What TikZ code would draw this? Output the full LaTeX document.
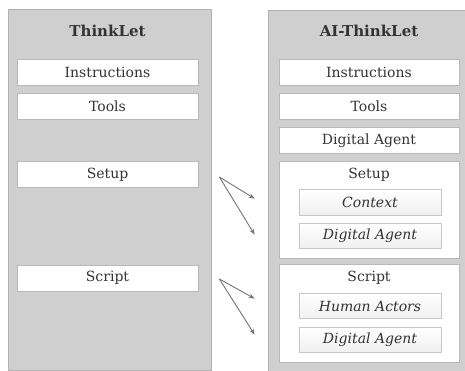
\documentclass[tikz,border=0pt]{standalone}
\usepackage{fontspec}
\setmainfont{DejaVu Serif}
\usetikzlibrary{arrows.meta, positioning}

\begin{document}
\begin{tikzpicture}[
    x=1pt, y=-1pt,
    font=\fontsize{14}{16}\selectfont,
    panel/.style={draw=gray!60, fill=gray!38, line width=0.8pt},
    title/.style={font=\fontsize{15}{17}\selectfont\bfseries, text=black!80},
    box/.style={draw=gray!55, fill=white, line width=0.8pt, minimum height=26pt, text=black!80, inner sep=0pt},
    group/.style={draw=gray!55, fill=white, line width=0.8pt, inner sep=0pt},
    sub/.style={draw=gray!45, top color=white, bottom color=gray!12, line width=0.8pt, minimum width=142pt, minimum height=25.5pt, font=\fontsize{14}{16}\selectfont\itshape, text=black!80, inner sep=0pt},
    lbl/.style={text=black!80, inner sep=0pt},
    arr/.style={-{Stealth[length=6pt, width=4.5pt]}, draw=black!55, line width=0.9pt},
  ]
  \useasboundingbox (0,0) rectangle (465,370);

  % ThinkLet panel
  \node[panel, minimum width=203pt, minimum height=361pt] (thinklet) at (109.5,189.5) {};
  \node[title] (thinkletT) at (107.5,31) {ThinkLet};
  \node[box, minimum width=181pt] (instrL) at (107.5,72) {Instructions};
  \node[box, minimum width=181pt] (toolsL) at (107.5,106) {Tools};
  \node[box, minimum width=181pt] (setupL) at (107.5,174.5) {Setup};
  \node[box, minimum width=181pt] (scriptL) at (107.5,278) {Script};

  % AI-ThinkLet panel
  \node[panel, minimum width=202pt, minimum height=361pt] (aithinklet) at (369,190.5) {};
  \node[title] (aithinkletT) at (369,31) {AI-ThinkLet};
  \node[box, minimum width=180pt] (instrR) at (369,72) {Instructions};
  \node[box, minimum width=180pt] (toolsR) at (369,106) {Tools};
  \node[box, minimum width=180pt] (agentR) at (369,140.5) {Digital Agent};

  \node[group, minimum width=180pt, minimum height=97pt] (setupR) at (369,209.5) {};
  \node[lbl] (setupRT) at (369,175) {Setup};
  \node[sub] (context) at (370,202.5) {Context};
  \node[sub] (setupAgent) at (370,236) {Digital Agent};

  \node[group, minimum width=180pt, minimum height=98pt] (scriptR) at (369,313) {};
  \node[lbl] (scriptRT) at (369,278) {Script};
  \node[sub] (actors) at (370,306) {Human Actors};
  \node[sub] (scriptAgent) at (370,340) {Digital Agent};

  % arrows
  \coordinate (s1) at ([xshift=21pt, yshift=-2.5pt]setupL.east);
  \coordinate (s1a) at ([xshift=-24pt, yshift=-38pt]setupR.north west);
  \coordinate (s1b) at ([xshift=-24pt, yshift=-74pt]setupR.north west);
  \draw[arr] (s1) -- (s1a);
  \draw[arr] (s1) -- (s1b);

  \coordinate (s2) at ([xshift=21pt, yshift=-1pt]scriptL.east);
  \coordinate (s2a) at ([xshift=-24pt, yshift=-35pt]scriptR.north west);
  \coordinate (s2b) at ([xshift=-24pt, yshift=-71pt]scriptR.north west);
  \draw[arr] (s2) -- (s2a);
  \draw[arr] (s2) -- (s2b);
\end{tikzpicture}
\end{document}
